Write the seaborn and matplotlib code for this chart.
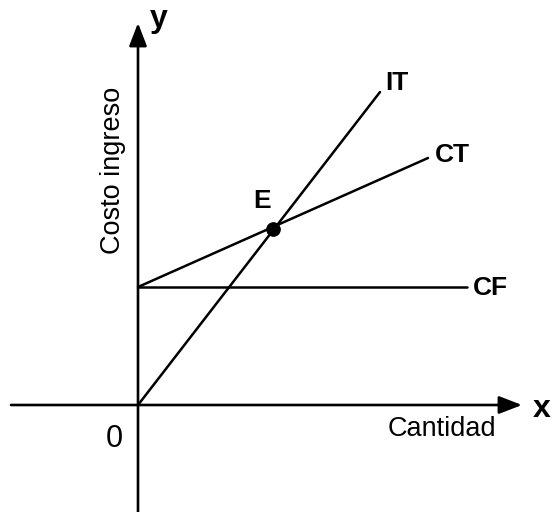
import matplotlib.pyplot as plt
import pandas as pd
import seaborn as sns

# Break-even chart (1 unit = 10 px)
it_x = [0.0, 24.2]
it_y = [0.0, 31.3]
ct_x = [0.0, 29.0]
ct_y = [11.8, 24.7]
cf_x = [0.0, 32.9]
cf_y = [11.8, 11.8]
e_x = [13.5]
e_y = [17.6]

sns.set_theme(style="white")
plt.rcParams['font.family'] = ['Liberation Sans', 'DejaVu Sans']
plt.rcParams['text.color'] = 'black'

lines_df = pd.concat([
    pd.DataFrame({'Cantidad': it_x, 'Costo': it_y, 'curva': 'IT'}),
    pd.DataFrame({'Cantidad': ct_x, 'Costo': ct_y, 'curva': 'CT'}),
    pd.DataFrame({'Cantidad': cf_x, 'Costo': cf_y, 'curva': 'CF'}),
])
e_df = pd.DataFrame({'Cantidad': e_x, 'Costo': e_y})

fig = plt.figure(figsize=(5.53, 5.12), dpi=100)
ax = fig.add_axes([0, 0, 1, 1])

sns.lineplot(data=lines_df, x='Cantidad', y='Costo', hue='curva',
             palette=['black'] * 3, linewidth=1.8, legend=False,
             estimator=None, sort=False, ax=ax)
sns.scatterplot(data=e_df, x='Cantidad', y='Costo', color='black',
                s=95, edgecolor='black', zorder=5, ax=ax)

# axes with arrow heads
arrow = dict(arrowstyle='-|>,head_length=0.7,head_width=0.27', color='black',
             lw=1.9, shrinkA=0, shrinkB=0, mutation_scale=20)
ax.annotate('', xy=(38.4, 0), xytext=(-12.7, 0), arrowprops=arrow)
ax.annotate('', xy=(0, 38.2), xytext=(0, -11), arrowprops=arrow)

ax.set_xlim(-13.8, 41.5)
ax.set_ylim(-10.7, 40.5)
ax.axis('off')

bold = dict(fontsize=19, fontweight='bold', color='black', va='baseline', ha='left')
ax.text(24.7, 31.5, 'IT', **bold)
ax.text(29.7, 24.3, 'CT', **bold)
ax.text(33.5, 11.0, 'CF', **bold)
ax.text(11.5, 19.7, 'E', **bold)
ax.text(1.2, 37.8, 'y', fontsize=23, fontweight='bold', color='black', va='baseline', ha='left')
ax.text(39.5, -1.2, 'x', fontsize=23, fontweight='bold', color='black', va='baseline', ha='left')

ax.text(25.0, -3.1, 'Cantidad', fontsize=19.5, color='black', va='baseline', ha='left')
ax.text(-3.2, -4.2, '0', fontsize=22, color='black', va='baseline', ha='left')
ax.text(-2.55, 23.5, 'Costo ingreso', fontsize=19.5, color='black', rotation=90,
        va='center', ha='center')

fig.savefig('out.png', dpi=100)
